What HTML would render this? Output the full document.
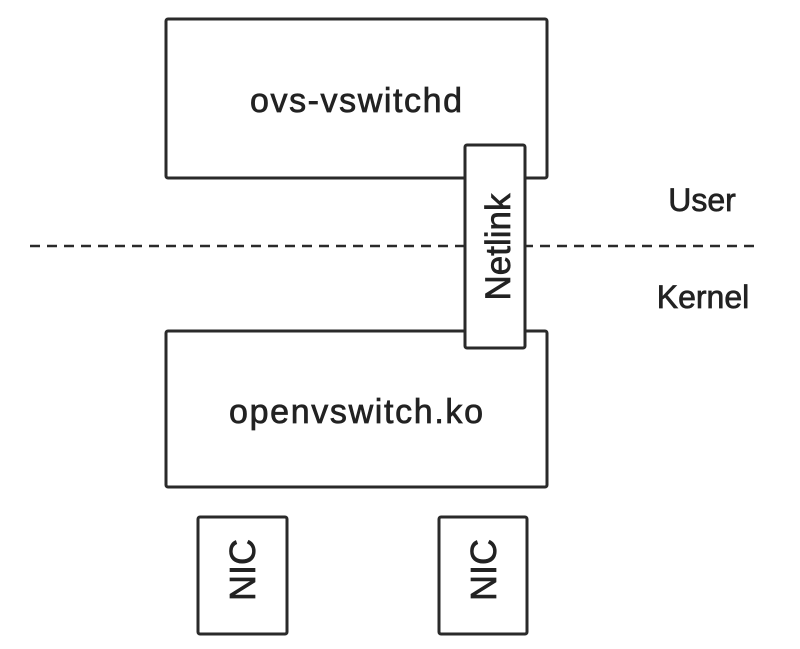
<!DOCTYPE html>
<html><head><style>body{margin:0;background:#fff}</style></head><body>
<svg width="800" height="644" xmlns="http://www.w3.org/2000/svg" font-family="Liberation Sans, sans-serif" fill="#222">
<g stroke="#2a2a2a" stroke-width="3" fill="#fff">
<rect x="166" y="19" width="381" height="159" rx="2"/>
<line x1="30" y1="246" x2="756" y2="246" stroke-dasharray="10,7" stroke-width="2.5"/>
<rect x="166" y="331" width="381" height="156" rx="2"/>
<rect x="465" y="145" width="60" height="203" rx="2"/>
<rect x="198" y="517" width="89" height="117" rx="2"/>
<rect x="439" y="517" width="88" height="117" rx="2"/>
</g>
<g stroke="#222" stroke-width="0.7">
<text x="356" y="112" font-size="34" text-anchor="middle" textLength="212">ovs-vswitchd</text>
<text x="356" y="423" font-size="34" text-anchor="middle" textLength="254">openvswitch.ko</text>
<text x="702" y="211" font-size="32" text-anchor="middle">User</text>
<text x="703" y="308" font-size="32" text-anchor="middle">Kernel</text>
<text transform="translate(510,247) rotate(-90)" font-size="35" text-anchor="middle">Netlink</text>
<text transform="translate(255,570) rotate(-90)" font-size="36" text-anchor="middle">NIC</text>
<text transform="translate(496,570) rotate(-90)" font-size="36" text-anchor="middle">NIC</text>
</g>
</svg>
</body></html>
